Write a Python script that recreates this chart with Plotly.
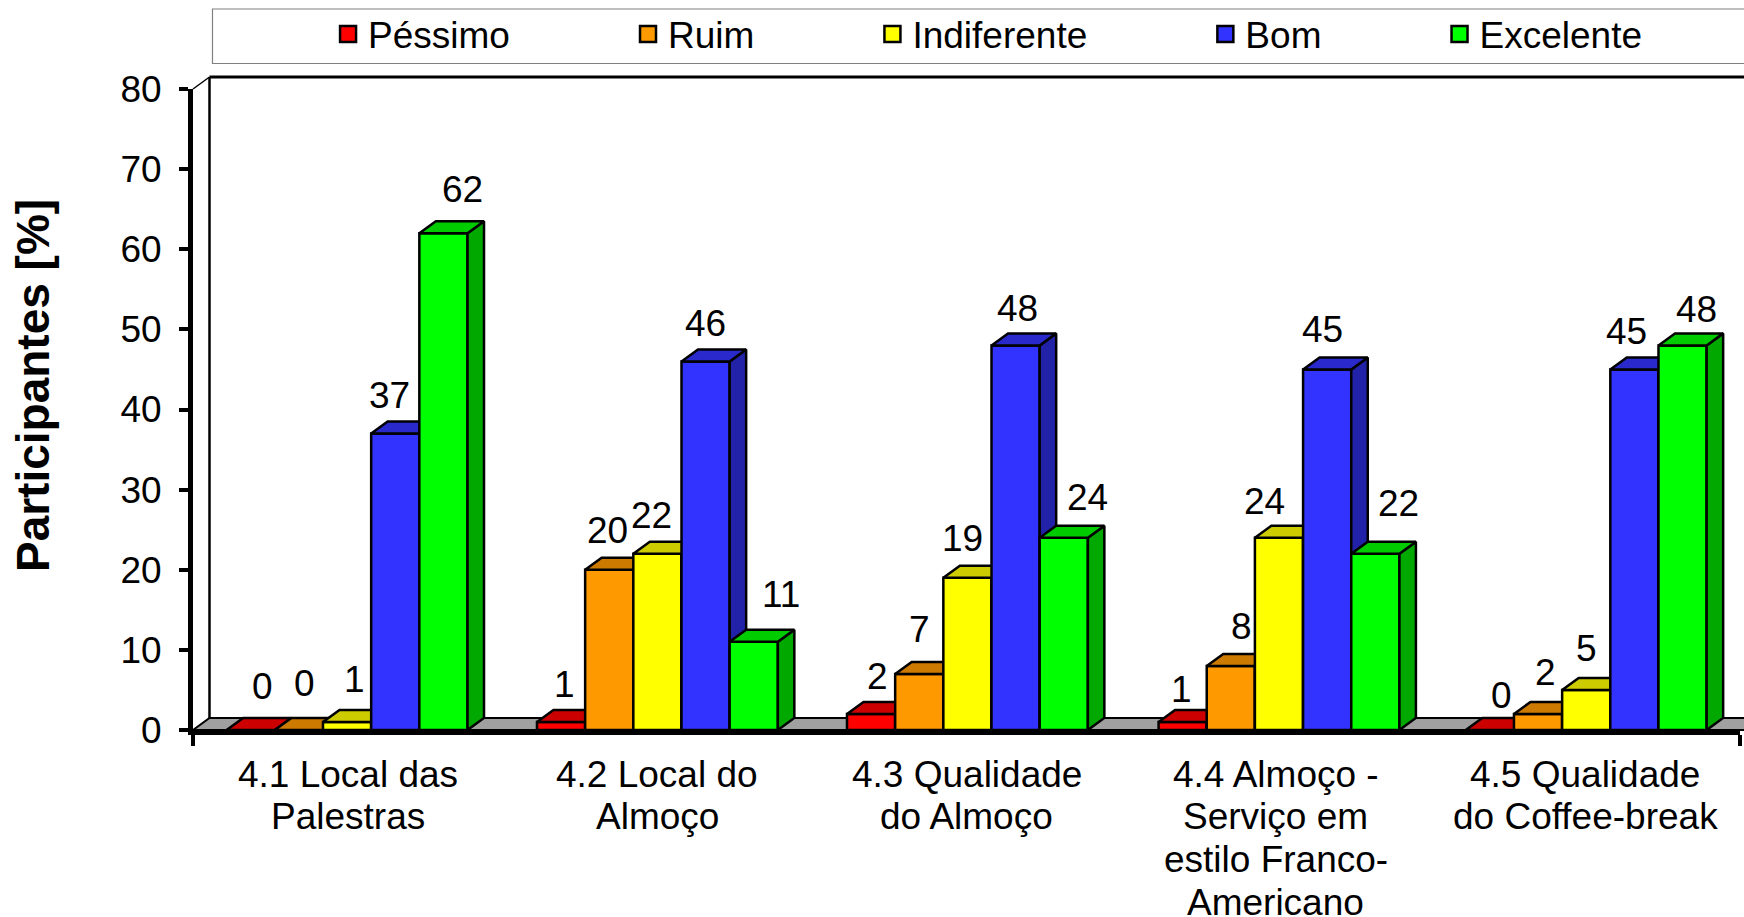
import plotly.graph_objects as go

CATEGORY_LINES = [
    ["4.1 Local das", "Palestras"],
    ["4.2 Local do", "Almoço"],
    ["4.3 Qualidade", "do Almoço"],
    ["4.4 Almoço -", "Serviço em", "estilo Franco-", "Americano"],
    ["4.5 Qualidade", "do Coffee-break"],
]
SERIES = ["Péssimo", "Ruim", "Indiferente", "Bom", "Excelente"]
PESSIMO = [0, 1, 2, 1, 0]
RUIM = [0, 20, 7, 8, 2]
INDIFERENTE = [1, 22, 19, 24, 5]
BOM = [37, 46, 48, 45, 45]
EXCELENTE = [62, 11, 24, 22, 48]
VALUES = [PESSIMO, RUIM, INDIFERENTE, BOM, EXCELENTE]
Y_TICKS = [0, 10, 20, 30, 40, 50, 60, 70, 80]

FRONT = ["#FF0000", "#FF9900", "#FFFF00", "#3333FF", "#00FF00"]
TOP = ["#CC0000", "#CC7A00", "#CCCC00", "#2929CC", "#00CC00"]
SIDE = ["#A80000", "#A86500", "#A8A800", "#2222A8", "#00A800"]

# group centres on the x axis (the source chart's groups are not perfectly even)
GROUP_X = [0.498, 1.501, 2.503, 3.510, 4.503]
LABEL_X = [0.5, 1.5, 2.5, 3.5, 4.5]

# hand-placed data-label offsets from each bar's top centre, px (series x group)
LABEL_DX = [
    [11.6, 3.8, 6.0, -0.7, 11.5],
    [6.0, -1.8, 0.4, 10.5, 7.0],
    [7.1, -6.2, -5.1, -14.0, 0.3],
    [-6.2, 0.4, 1.6, -5.1, -7.5],
    [19.3, 27.1, 23.8, 22.7, 13.7],
]
LABEL_DY = [
    [43.4, 37.6, 37.4, 32.0, 34.5],
    [46.7, 38.9, 44.0, 39.4, 41.8],
    [42.0, 38.5, 39.1, 35.8, 41.1],
    [38.5, 37.6, 37.1, 40.0, 37.8],
    [44.0, 47.6, 40.3, 50.7, 36.0],
]

W, H = 1744, 917
PLOT_L, PLOT_R, PLOT_T, PLOT_B = 192.5, 1740.0, 89.0, 730.0
PW, PH = PLOT_R - PLOT_L, PLOT_B - PLOT_T
FONT = "Liberation Sans"
FS = 37
BAR_W = 0.1557
DX = 16.5 / (PW / 5)   # depth in x units
DY = 1.5               # depth in y units
EDGE = 2.5

fig = go.Figure()
n = len(SERIES)
for i, name in enumerate(SERIES):
    sfx = "" if i == 0 else str(i + 1)
    xa, ya = "x" + sfx, "y" + sfx
    xs = [gx + (i - (n - 1) / 2) * BAR_W for gx in GROUP_X]
    side_x, side_y, top_x, top_y = [], [], [], []
    for xc, v in zip(xs, VALUES[i]):
        l, r = xc - BAR_W / 2, xc + BAR_W / 2
        side_x += [r, r + DX, r + DX, r, r, None]
        side_y += [0, DY, v + DY, v, 0, None]
        top_x += [l, l + DX, r + DX, r, l, None]
        top_y += [v, v + DY, v + DY, v, v, None]
    fig.add_trace(go.Bar(x=xs, y=VALUES[i], width=BAR_W, xaxis=xa, yaxis=ya, showlegend=False,
                         marker=dict(color=FRONT[i], line=dict(color="black", width=EDGE)),
                         hoverinfo="skip"))
    fig.add_trace(go.Scatter(x=side_x, y=side_y, xaxis=xa, yaxis=ya, mode="lines", fill="toself",
                             fillcolor=SIDE[i], line=dict(color="black", width=EDGE),
                             showlegend=False, hoverinfo="skip"))
    fig.add_trace(go.Scatter(x=top_x, y=top_y, xaxis=xa, yaxis=ya, mode="lines", fill="toself",
                             fillcolor=TOP[i], line=dict(color="black", width=EDGE),
                             showlegend=False, hoverinfo="skip"))

GAP = "\u00a0" * 11
for i, name in enumerate(SERIES):
    fig.add_trace(go.Scatter(x=[None], y=[None], mode="markers", name=name + (GAP if i < n - 1 else ""),
                             marker=dict(symbol="square", size=18, color=FRONT[i],
                                         line=dict(color="black", width=2.5)),
                             hoverinfo="skip"))

annotations = []
for i in range(n):
    for g, v in enumerate(VALUES[i]):
        annotations.append(dict(x=GROUP_X[g] + (i - (n - 1) / 2) * BAR_W, y=v, xref="x", yref="y",
                                text=str(v), showarrow=False, xanchor="center", yanchor="middle",
                                xshift=LABEL_DX[i][g], yshift=LABEL_DY[i][g],
                                font=dict(family=FONT, size=FS, color="black")))
FIRST_LINE, LINE_STEP = 44, 42.8
for g, lines in enumerate(CATEGORY_LINES):
    for j, line in enumerate(lines):
        annotations.append(dict(x=LABEL_X[g], y=0, xref="x", yref="paper", text=line, showarrow=False,
                                xanchor="center", yanchor="middle",
                                yshift=-(FIRST_LINE + j * LINE_STEP),
                                font=dict(family=FONT, size=FS, color="black")))
annotations.append(dict(x=(32.5 - PLOT_L) / PW, y=(PLOT_B - 386) / PH, xref="paper", yref="paper",
                        text="<b>Participantes [%]</b>", showarrow=False, textangle=-90,
                        xanchor="center", yanchor="middle",
                        font=dict(family=FONT, size=46, color="black")))

# back wall and floor of the 3-D box
dxp = DX / 5
dyp = DY / 80
shapes = [
    dict(type="path", xref="paper", yref="paper", layer="below",
         path=f"M 0 0 L {dxp} {dyp} L 1.1 {dyp} L 1.1 0 Z", fillcolor="#A0A0A0",
         line=dict(color="black", width=2)),
    dict(type="line", xref="paper", yref="paper", layer="below", x0=dxp, x1=dxp, y0=dyp, y1=1 + dyp,
         line=dict(color="black", width=2.5)),
    dict(type="line", xref="paper", yref="paper", layer="below", x0=dxp, x1=1.1, y0=1 + dyp, y1=1 + dyp,
         line=dict(color="black", width=3)),
    dict(type="line", xref="paper", yref="paper", layer="below", x0=0, x1=dxp, y0=1, y1=1 + dyp,
         line=dict(color="black", width=1.5)),
    dict(type="rect", xref="paper", yref="paper", layer="below",
         x0=(212 - PLOT_L) / PW, x1=1.1, y0=(PLOT_B - 63.5) / PH, y1=(PLOT_B - 9) / PH,
         fillcolor="white", line=dict(color="#808080", width=1.2)),
]

layout = dict(
    width=W, height=H, paper_bgcolor="white", plot_bgcolor="rgba(0,0,0,0)",
    margin=dict(l=PLOT_L, r=W - PLOT_R, t=PLOT_T, b=H - PLOT_B, pad=0, autoexpand=False),
    barmode="overlay", showlegend=True,
    font=dict(family=FONT, size=FS, color="black"),
    legend=dict(orientation="h", x=(327.6 - PLOT_L) / PW, xanchor="left", y=(PLOT_B - 34.5) / PH,
                yanchor="middle", bgcolor="rgba(0,0,0,0)", borderwidth=0,
                font=dict(family=FONT, size=FS, color="black"), itemsizing="trace",
                itemwidth=30, traceorder="normal"),
    xaxis=dict(range=[0, 5], tickmode="array", tickvals=[0, 5], ticks="outside", ticklen=11, tickwidth=4,
               tickcolor="black", showticklabels=False, showgrid=False, zeroline=False,
               showline=True, linecolor="black", linewidth=5),
    yaxis=dict(range=[0, 80], tickmode="array", tickvals=Y_TICKS, ticks="outside", ticklen=9, tickwidth=4,
               tickcolor="black", showgrid=False, zeroline=False, showline=True, linecolor="black",
               linewidth=5, ticklabelstandoff=10, tickfont=dict(family=FONT, size=FS, color="black")),
    annotations=annotations, shapes=shapes,
)
for i in range(2, n + 1):
    layout[f"xaxis{i}"] = dict(range=[0, 5], overlaying="x", visible=False, anchor=f"y{i}")
    layout[f"yaxis{i}"] = dict(range=[0, 80], overlaying="y", visible=False, anchor=f"x{i}")
fig.update_layout(**layout)

fig.write_html("out.html", config={"displayModeBar": False},
               post_script="document.body.style.margin='0';document.body.style.overflow='hidden';")
